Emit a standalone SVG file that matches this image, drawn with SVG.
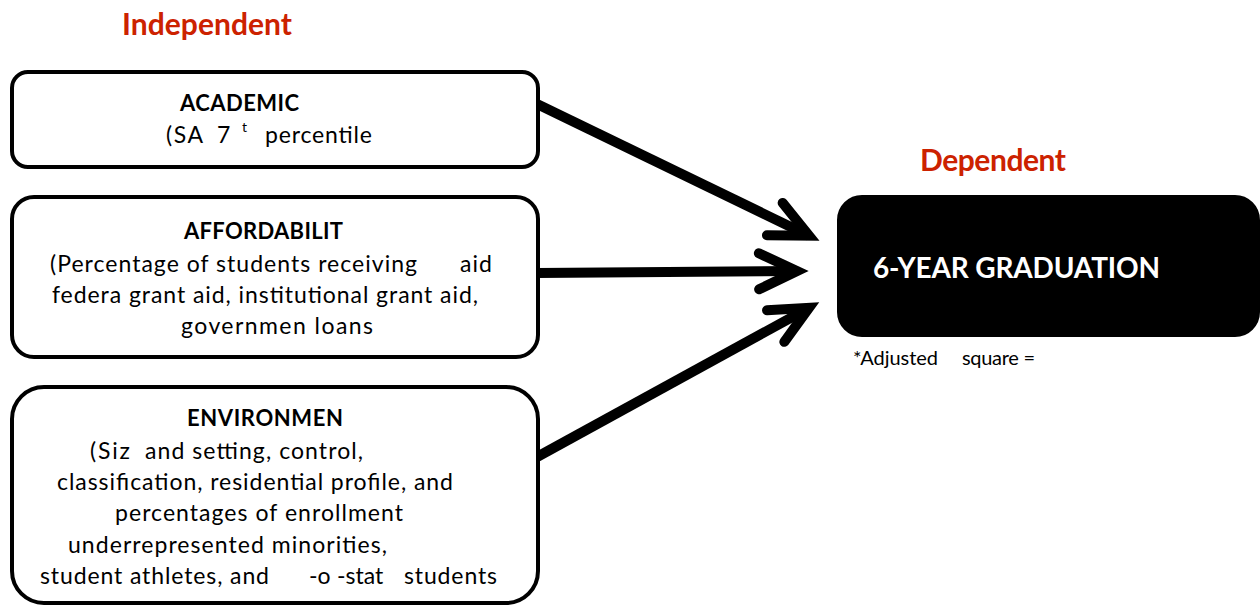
<svg xmlns="http://www.w3.org/2000/svg" width="1260" height="606" viewBox="0 0 1260 606" xml:space="preserve">
<style>
.box{fill:#fff;stroke:#000;stroke-width:4}
.dep{fill:#000;stroke:#000;stroke-width:2}
.t{font-family:Lato,"Liberation Sans",sans-serif;font-size:23px;fill:#000}
.h{font-family:Lato,"Liberation Sans",sans-serif;font-size:22px;font-weight:700;fill:#000}
.red{font-family:Lato,"Liberation Sans",sans-serif;font-size:30px;font-weight:700;fill:#cc2200}
.w{font-family:Lato,"Liberation Sans",sans-serif;font-size:28px;font-weight:700;fill:#fff}
.sup{font-family:Lato,"Liberation Sans",sans-serif;font-size:14px;fill:#000}
.note{font-family:Lato,"Liberation Sans",sans-serif;font-size:20px;fill:#000}
.conn{stroke:#000;stroke-width:10;fill:none}
</style>
<defs>
<marker id="arr" markerUnits="userSpaceOnUse" orient="auto" refX="0" refY="0" markerWidth="80" markerHeight="80" overflow="visible">
<path d="M -38,-18 L 0,0 L -38,18" fill="none" stroke="#000" stroke-width="10" stroke-linecap="round" stroke-linejoin="miter"/>
</marker>
</defs>
<text class="red" x="122" y="35" textLength="170">Independent</text>
<text class="red" x="920" y="171" textLength="146">Dependent</text>
<g id="connectors">
<path class="conn" d="M 537,104 L 809,235.7" marker-end="url(#arr)"/>
<path class="conn" d="M 537,273 L 797,271" marker-end="url(#arr)"/>
<path class="conn" d="M 537,457 L 809,307.8" marker-end="url(#arr)"/>
</g>
<g id="academic">
<rect class="box" x="12" y="72" width="526" height="95" rx="16"/>
<text class="h" x="180" y="111" textLength="119">ACADEMIC</text>
<text class="t" x="166" y="143" textLength="37">(SA</text>
<text class="t" x="217" y="143">7</text>
<text class="sup" x="242" y="132">t</text>
<text class="t" x="265" y="143" textLength="107">percentile</text>
</g>
<g id="affordability">
<rect class="box" x="12" y="197" width="526" height="160" rx="22"/>
<text class="h" x="184" y="239" textLength="159">AFFORDABILIT</text>
<text class="t" x="50" y="272" textLength="367">(Percentage  of students receiving</text>
<text class="t" x="460" y="272" textLength="32">aid</text>
<text class="t" x="52" y="303" textLength="426">federa  grant aid, institutional grant aid,</text>
<text class="t" x="181" y="334" textLength="192">governmen  loans</text>
</g>
<g id="environment">
<rect class="box" x="12" y="387" width="526" height="216" rx="32"/>
<text class="h" x="187" y="426" textLength="156">ENVIRONMEN</text>
<text class="t" x="90" y="459" textLength="40">(Siz</text>
<text class="t" x="145" y="459" textLength="218">and setting, control,</text>
<text class="t" x="57" y="490" textLength="396">classification, residential profile, and</text>
<text class="t" x="115" y="521" textLength="288">percentages of enrollment</text>
<text class="t" x="68" y="553" textLength="319">underrepresented minorities,</text>
<text class="t" x="40" y="584" textLength="229">student athletes, and</text>
<text class="t" x="309" y="584">-o</text>
<text class="t" x="337" y="584">-stat</text>
<text class="t" x="404" y="584" textLength="93">students</text>
</g>
<g id="graduation">
<rect class="dep" x="838" y="196" width="421" height="140" rx="24"/>
<text class="w" x="873" y="278" textLength="287">6-YEAR GRADUATION</text>
</g>
<g id="note">
<text class="note" x="853" y="365" textLength="85">*Adjusted</text>
<text class="note" x="962" y="365" textLength="73">square =</text>
</g>
</svg>
